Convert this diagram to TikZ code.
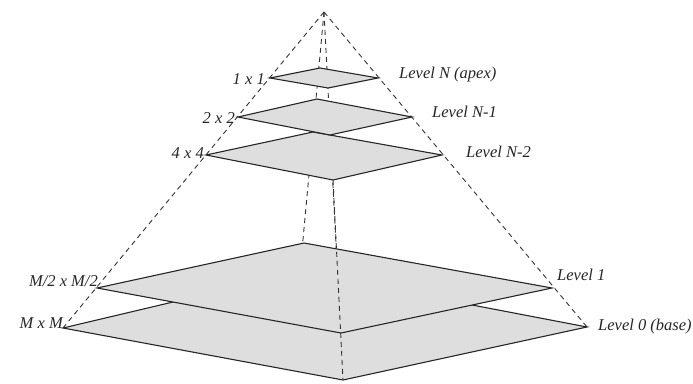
\documentclass[tikz,border=0pt]{standalone}
\usepackage{fontspec}
\setmainfont{Liberation Serif}
\begin{document}
\begin{tikzpicture}[x=1pt,y=-1pt,
  lvl/.style={fill=black!13, draw=black!85, line width=1.1pt, line join=miter},
  hid/.style={draw=black!80, dash pattern=on 5pt off 4pt, line width=0.9pt},
  lab/.style={font=\fontsize{16.5}{19}\selectfont\itshape, inner sep=0pt, text=black!85}]
\useasboundingbox (0,0) rectangle (693,383);
\coordinate (apex) at (324,12);
% level 0 (base)
\coordinate (L0l) at (63,328);  \coordinate (L0t) at (300,272);
\coordinate (L0r) at (587,327); \coordinate (L0b) at (343,380);
% level 1
\coordinate (L1l) at (97,288);  \coordinate (L1t) at (304,243);
\coordinate (L1r) at (552,288); \coordinate (L1b) at (341,333);
% level N-2
\coordinate (L2l) at (206,155); \coordinate (L2t) at (313,132);
\coordinate (L2r) at (442,155); \coordinate (L2b) at (333,180);
% level N-1
\coordinate (L3l) at (238,117); \coordinate (L3t) at (317,99);
\coordinate (L3r) at (412,117); \coordinate (L3b) at (330,135);
% level N
\coordinate (L4l) at (270,78);  \coordinate (L4t) at (320,68);
\coordinate (L4r) at (378,78);  \coordinate (L4b) at (328,88);
% pyramid edges
\draw[hid] (apex) -- (L0l);
\draw[hid] (apex) -- (L0r);
\draw[hid] (apex) -- (L0t);
\draw[hid] (apex) -- (L0b);
% levels
\draw[lvl] (L0l) -- (L0t) -- (L0r) -- (L0b) -- cycle;
\draw[lvl] (L1l) -- (L1t) -- (L1r) -- (L1b) -- cycle;
\draw[hid] (L2b) -- (L0b);
\draw[lvl] (L2l) -- (L2t) -- (L2r) -- (L2b) -- cycle;
\draw[lvl] (L3l) -- (L3t) -- (L3r) -- (L3b) -- cycle;
\draw[lvl] (L4l) -- (L4t) -- (L4r) -- (L4b) -- cycle;
% size labels
\node[lab, anchor=base east] (s4) at (265,84) {1 x 1};
\node[lab, anchor=base east] (s3) at (235,123) {2 x 2};
\node[lab, anchor=base east] (s2) at (204,158) {4 x 4};
\node[lab, anchor=base east] (s1) at (98,286) {M/2 x M/2};
\node[lab, anchor=base east] (s0) at (63,328) {M x M};
% level labels
\node[lab, anchor=base west] (n4) at (399,78) {Level N (apex)};
\node[lab, anchor=base west] (n3) at (432,117) {Level N-1};
\node[lab, anchor=base west] (n2) at (466,157) {Level N-2};
\node[lab, anchor=base west] (n1) at (557,280) {Level 1};
\node[lab, anchor=base west] (n0) at (598,330) {Level 0 (base)};
\end{tikzpicture}
\end{document}
